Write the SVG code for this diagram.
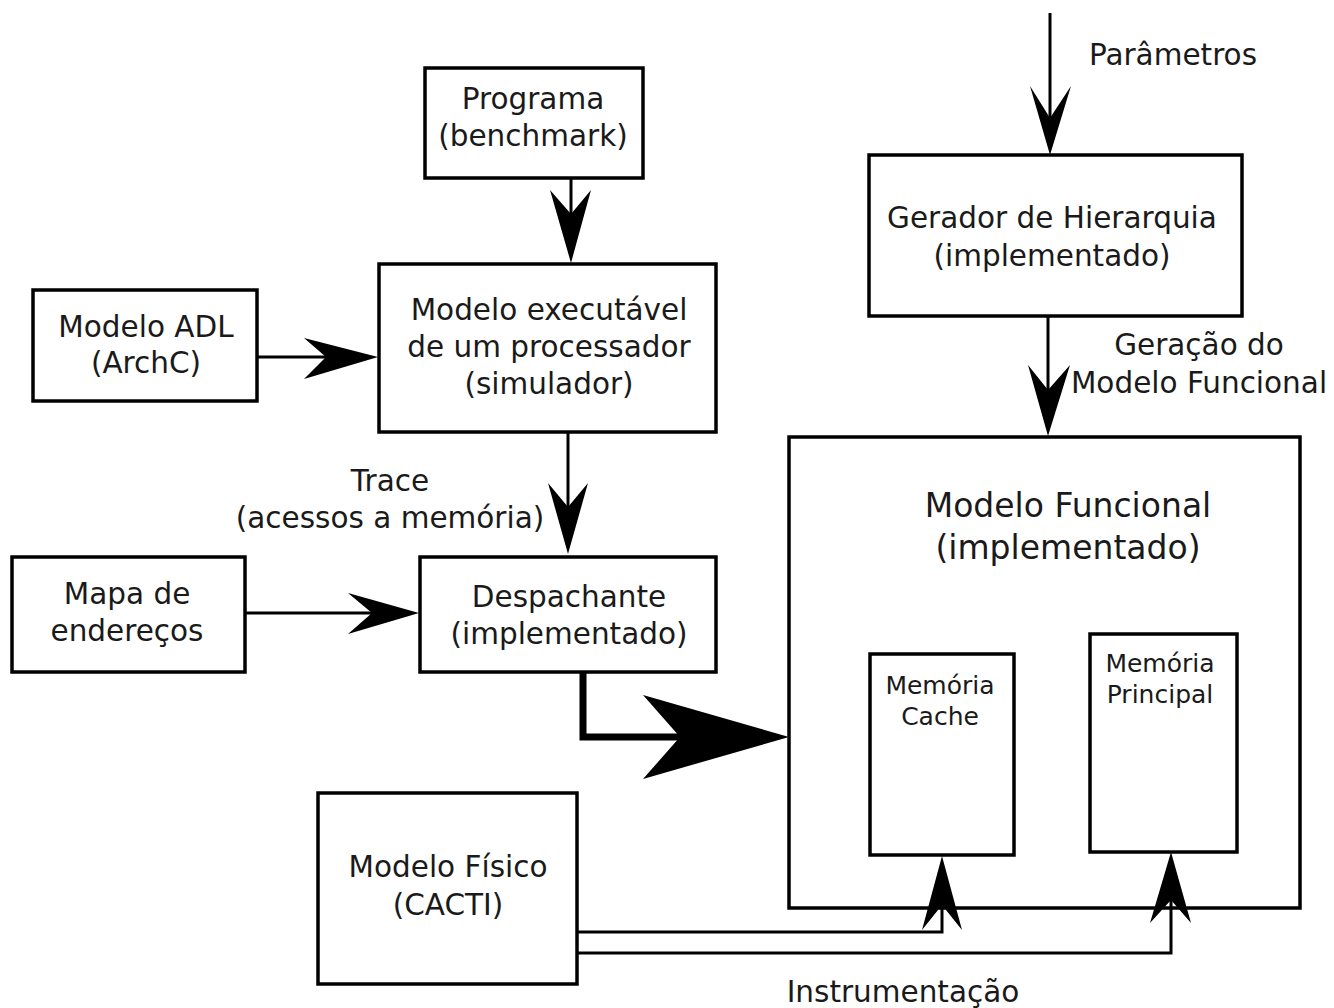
<svg xmlns="http://www.w3.org/2000/svg" width="1334" height="1008" viewBox="0 0 1334 1008">
  <style>
    .box { fill: #fff; stroke: #000; stroke-width: 3.5; }
    .line { fill: none; stroke: #000; stroke-width: 3; }
    .thick { fill: none; stroke: #000; stroke-width: 7; }
    .head { fill: #000; stroke: none; }
    text { font-family: "DejaVu Sans", "Liberation Sans", sans-serif; fill: #1a1a1a; text-anchor: middle; }
    .t { font-size: 29.5px; }
    .big { font-size: 33px; }
    .small { font-size: 25px; }
  </style>
  <rect width="1334" height="1008" fill="#fff"/>

  <g id="programa">
    <rect class="box" x="425" y="68" width="218" height="110"/>
    <text class="t" x="533" y="109">Programa</text>
    <text class="t" x="533" y="146">(benchmark)</text>
  </g>

  <g id="simulador">
    <rect class="box" x="379" y="264" width="337" height="168"/>
    <text class="t" x="549" y="320">Modelo executável</text>
    <text class="t" x="549" y="357">de um processador</text>
    <text class="t" x="549" y="394">(simulador)</text>
  </g>

  <g id="modelo-adl">
    <rect class="box" x="33" y="290" width="224" height="111"/>
    <text class="t" x="146" y="337">Modelo ADL</text>
    <text class="t" x="146" y="373">(ArchC)</text>
  </g>

  <g id="mapa">
    <rect class="box" x="12" y="557" width="233" height="115"/>
    <text class="t" x="127" y="604">Mapa de</text>
    <text class="t" x="127" y="641">endereços</text>
  </g>

  <g id="despachante">
    <rect class="box" x="420" y="557" width="296" height="115"/>
    <text class="t" x="569" y="607">Despachante</text>
    <text class="t" x="569" y="644">(implementado)</text>
  </g>

  <g id="gerador">
    <rect class="box" x="869" y="155" width="373" height="161"/>
    <text class="t" x="1052" y="228">Gerador de Hierarquia</text>
    <text class="t" x="1052" y="266">(implementado)</text>
  </g>

  <g id="modelo-funcional">
    <rect class="box" x="789" y="437" width="511" height="471"/>
    <text class="big" x="1068" y="517">Modelo Funcional</text>
    <text class="big" x="1068" y="559">(implementado)</text>
  </g>

  <g id="memoria-cache">
    <rect class="box" x="870" y="654" width="144" height="201"/>
    <text class="small" x="940" y="694">Memória</text>
    <text class="small" x="940" y="725">Cache</text>
  </g>

  <g id="memoria-principal">
    <rect class="box" x="1090" y="634" width="147" height="218"/>
    <text class="small" x="1160" y="672">Memória</text>
    <text class="small" x="1160" y="703">Principal</text>
  </g>

  <g id="modelo-fisico">
    <rect class="box" x="318" y="793" width="259" height="191"/>
    <text class="t" x="448" y="877">Modelo Físico</text>
    <text class="t" x="448" y="915">(CACTI)</text>
  </g>

  <!-- connectors, drawn over the boxes so the heads meet the borders -->
  <g id="connectors">
    <!-- Parâmetros input -->
    <line class="line" x1="1050" y1="13" x2="1050" y2="140"/>
    <polygon class="head" points="1050,155 1030,86 1050,118 1071,86"/>
    <!-- Programa to simulator -->
    <line class="line" x1="571" y1="178" x2="571" y2="250"/>
    <polygon class="head" points="571,263 550,190 571,214 591,190"/>
    <!-- ADL model to simulator -->
    <line class="line" x1="257" y1="357" x2="365" y2="357"/>
    <polygon class="head" points="378,357 304,338 326,357 304,379"/>
    <!-- simulator to dispatcher -->
    <line class="line" x1="568" y1="432" x2="568" y2="540"/>
    <polygon class="head" points="568,554 548,483 568,507 588,483"/>
    <!-- address map to dispatcher -->
    <line class="line" x1="245" y1="613" x2="405" y2="613"/>
    <polygon class="head" points="419,613 348,593 372,613 348,634"/>
    <!-- dispatcher to functional model (thick) -->
    <polyline class="thick" points="583,672 583,737 700,737"/>
    <polygon class="head" points="789,737 643,695 680,737 643,779"/>
    <!-- hierarchy generator to functional model -->
    <line class="line" x1="1048" y1="316" x2="1048" y2="420"/>
    <polygon class="head" points="1048,436 1028,365 1048,390 1070,365"/>
    <!-- physical model to cache -->
    <polyline class="line" points="577,932 942,932 942,880"/>
    <polygon class="head" points="942,856 922,930 942,905 962,930"/>
    <!-- physical model to main memory -->
    <polyline class="line" points="577,953 1171,953 1171,880"/>
    <polygon class="head" points="1171,852 1150,923 1171,900 1191,923"/>
  </g>

  <!-- connector labels -->
  <g id="labels">
    <text class="t" x="1173" y="65">Parâmetros</text>
    <text class="t" x="1199" y="355">Geração do</text>
    <text class="t" x="1199" y="393">Modelo Funcional</text>
    <text class="t" x="390" y="491">Trace</text>
    <text class="t" x="390" y="528">(acessos a memória)</text>
    <text class="t" x="903" y="1002">Instrumentação</text>
  </g>
</svg>
